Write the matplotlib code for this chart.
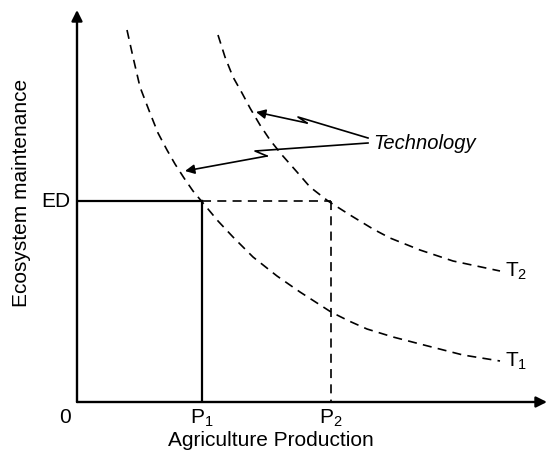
import matplotlib
matplotlib.use("Agg")
import matplotlib.pyplot as plt

plt.rcParams['font.family'] = ['Liberation Sans', 'DejaVu Sans']
plt.rcParams['mathtext.fontset'] = 'custom'
plt.rcParams['mathtext.rm'] = 'Liberation Sans'
plt.rcParams['mathtext.it'] = 'Liberation Sans:italic'
plt.rcParams['lines.scale_dashes'] = False

# curve T1 (old technology)
t1_x = [5.0, 5.6, 6.3, 7.3, 8.1, 9.0, 9.8, 10.7, 11.6, 12.6, 14.1, 15.6,
        17.6, 20.0, 22.3, 25.4, 27.2, 29.0, 31.6, 34.3, 38.6, 42.3]
t1_y = [37.2, 34.5, 31.5, 28.9, 26.9, 25.2, 23.8, 22.4, 21.1, 19.9, 18.1, 16.5,
        14.5, 12.6, 11.0, 9.0, 8.1, 7.3, 6.5, 5.8, 4.7, 4.1]

# curve T2 (new technology)
t2_x = [14.1, 14.8, 15.6, 16.5, 17.3, 18.3, 19.3, 20.5, 22.0, 23.3, 25.1,
        27.3, 29.6, 31.3, 34.3, 37.6, 42.3]
t2_y = [36.7, 34.5, 32.5, 30.9, 29.4, 27.7, 26.2, 24.7, 23.0, 21.5, 20.1,
        18.7, 17.3, 16.4, 15.2, 14.1, 13.1]

ED = 20.1
P1 = 12.5
P2 = 25.4

# zig-zag pointers from the "Technology" label
arrow_up_x = [29.1, 22.1, 23.0, 17.9]
arrow_up_y = [26.4, 28.5, 27.9, 29.0]
arrow_lo_x = [29.1, 17.8, 19.0, 10.8]
arrow_lo_y = [25.9, 25.1, 24.6, 23.1]

XMAX = 47.0
YMAX = 39.2


def draw():
    fig = plt.figure(figsize=(5.47, 4.54), dpi=100)
    ax = fig.add_axes([77 / 547, 52 / 454, 470 / 547, 392 / 454])
    ax.set_xlim(0, XMAX)
    ax.set_ylim(0, YMAX)
    ax.axis('off')

    # axes with arrows
    ax.annotate('', xy=(0, YMAX), xytext=(0, 0),
                arrowprops=dict(arrowstyle='-|>', lw=1.7, color='black',
                                mutation_scale=16, shrinkA=0, shrinkB=0),
                annotation_clip=False)
    ax.annotate('', xy=(XMAX, 0), xytext=(0, 0),
                arrowprops=dict(arrowstyle='-|>', lw=1.7, color='black',
                                mutation_scale=16, shrinkA=0, shrinkB=0),
                annotation_clip=False)

    dash = (0, (6.5, 4.5))
    ax.plot(t1_x, t1_y, color='black', lw=1.2, linestyle=dash)
    ax.plot(t2_x, t2_y, color='black', lw=1.2, linestyle=dash)

    # solid ED / P1 lines
    ax.plot([0, P1], [ED, ED], color='black', lw=1.6)
    ax.plot([P1, P1], [ED, 0], color='black', lw=1.6)
    # dashed ED / P2 lines
    ax.plot([P1, P2], [ED, ED], color='black', lw=1.2, linestyle=dash)
    ax.plot([P2, P2], [ED, 0], color='black', lw=1.2, linestyle=dash)

    # technology pointers
    for xs, ys in [(arrow_up_x, arrow_up_y), (arrow_lo_x, arrow_lo_y)]:
        ax.plot(xs[:-1], ys[:-1], color='black', lw=1.2)
        ax.annotate('', xy=(xs[-1], ys[-1]), xytext=(xs[-2], ys[-2]),
                    arrowprops=dict(arrowstyle='-|>', lw=1.2, color='black',
                                    mutation_scale=14, shrinkA=0, shrinkB=0))
    ax.text(29.6, 25.9, 'Technology', fontsize=14.5, style='italic',
            ha='left', va='center')

    # labels
    fs = 15
    ax.text(42.8, 13.1, 'T$_2$', fontsize=fs, ha='left', va='center')
    ax.text(42.8, 4.1, 'T$_1$', fontsize=fs, ha='left', va='center')
    ax.text(-0.7, ED, 'ED', fontsize=fs, ha='right', va='center')
    ax.text(-1.2, -0.6, '0', fontsize=fs, ha='center', va='top')
    ax.text(P1, -0.6, 'P$_1$', fontsize=fs, ha='center', va='top')
    ax.text(P2, -0.6, 'P$_2$', fontsize=fs, ha='center', va='top')
    ax.text(19.4, -2.9, 'Agriculture Production', fontsize=fs,
            ha='center', va='top')
    ax.text(-5.5, 20.9, 'Ecosystem maintenance', fontsize=fs,
            ha='center', va='center', rotation=90)

    fig.savefig('out.png', dpi=100)


if __name__ == '__main__':
    draw()
